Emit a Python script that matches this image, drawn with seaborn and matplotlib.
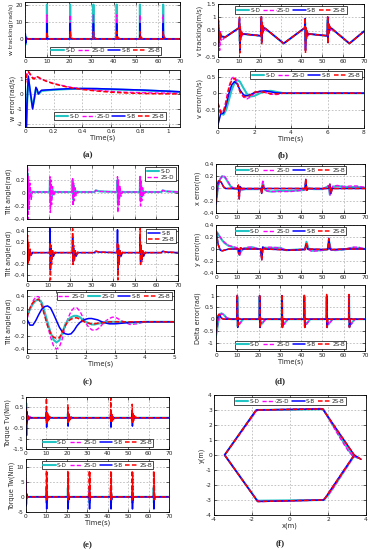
import seaborn as sns
import matplotlib.pyplot as plt
from matplotlib.ticker import FuncFormatter

SERIES = ["S-D", "2S-D", "S-B", "2S-B"]

# ---------------- (a) w tracking / w error
w_events = [9.9, 20.4, 30.9, 41.4, 51.9, 62.4]
w_offs = [-0.1, 0.0, 0.12, 0.3, 0.8, 1.6]
w_spike = {"S-D": [0, 20.0, 0.3, 0, 0, 0], "2S-D": [0, 14.0, 0.3, 0, 0, 0],
           "S-B": [0, 9.0, 1.0, 0.2, 0, 0], "2S-B": [0, 4.2, 3.0, 1.5, 0.5, 0]}
w_start_t = [0, 0.15, 0.3, 0.6, 1.5]
w_start = {"S-D": [0, -3.5, 1.5, 0, 0], "2S-D": [0, -1.5, 1.0, 0, 0],
           "S-B": [0, 3.0, -2.5, 0.5, 0], "2S-B": [0, 1.0, -0.5, 0.2, 0]}

we_t = [0, 0.008, 0.015, 0.023, 0.035, 0.053, 0.065, 0.076, 0.085, 0.093, 0.105, 0.115,
        0.15, 0.2, 0.3, 0.4, 0.5, 0.6, 0.7, 0.8, 0.9, 1.0, 1.08]
we = {
    "S-D": [0.6, -2.6, -0.6, 1.0, 0.2, -0.9, -0.3, 0.35, 0.2, 0.0, 0.1, 0.2,
            0.24, 0.28, 0.33, 0.35, 0.34, 0.31, 0.28, 0.25, 0.21, 0.17, 0.13],
    "2S-D": [0.7, 1.1, 1.45, 1.45, 1.3, 1.1, 1.05, 1.12, 1.12, 1.1, 1.03, 0.98,
             0.85, 0.7, 0.48, 0.34, 0.25, 0.17, 0.12, 0.09, 0.07, 0.06, 0.05],
    "S-B": [0.5, -2.6, -0.5, 1.2, 0.3, -1.0, -0.3, 0.45, 0.3, 0.0, 0.15, 0.25,
            0.27, 0.3, 0.35, 0.37, 0.36, 0.33, 0.3, 0.27, 0.23, 0.19, 0.15],
    "2S-B": [0.6, 1.0, 1.4, 1.5, 1.35, 1.05, 1.0, 1.15, 1.15, 1.12, 1.05, 1.0,
             0.85, 0.68, 0.45, 0.3, 0.2, 0.12, 0.07, 0.04, 0.02, 0.01, 0.0],
}

# ---------------- (b) v tracking / v error
v_base_t = [0, 3.5, 10.1, 12.0, 20.6, 22.6, 31.5, 41.6, 43.6, 52.4, 54.4, 63.0, 70.0]
v_base_v = [0.3, 0.25, 0.6, 0.37, 0.3, 0.58, 0.01, 0.6, 0.37, 0.3, 0.58, 0.01, 0.47]
v_events = [0.2, 10.3, 20.8, 41.8, 52.6]
v_offs = [0.0, 0.15, 0.35, 0.6, 0.95, 1.35]
v_burst = {
    "S-D": [[0.6, 0.15, 0.45, 0.2, 0.35, 0.28], [0.75, 0.1, 0.55, 0.3, 0.42, 0.38],
            [0.85, 0.3, 0.7, 0.5, 0.62, 0.58], [0.8, 0.1, 0.55, 0.3, 0.42, 0.38],
            [0.9, 0.3, 0.75, 0.55, 0.65, 0.6]],
    "2S-D": [[0.75, -0.1, 0.5, -0.25, 0.45, 0.1], [0.8, -0.15, 0.6, 0.15, 0.5, 0.3],
             [0.95, 0.15, 0.8, 0.4, 0.7, 0.5], [0.9, -0.15, 0.6, 0.15, 0.5, 0.3],
             [1.0, 0.15, 0.8, 0.4, 0.7, 0.5]],
    "S-B": [[0.85, 0.05, 0.45, 0.2, 0.35, 0.28], [0.95, -0.25, 0.6, 0.25, 0.42, 0.36],
            [1.0, 0.05, 0.75, 0.45, 0.62, 0.58], [0.95, -0.25, 0.6, 0.25, 0.42, 0.36],
            [1.0, 0.05, 0.75, 0.45, 0.62, 0.58]],
    "2S-B": [[0.9, 0.0, 0.5, 0.15, 0.4, 0.25], [1.0, -0.35, 0.65, 0.2, 0.45, 0.35],
             [1.05, 0.0, 0.8, 0.4, 0.65, 0.57], [0.98, -0.35, 0.65, 0.2, 0.45, 0.35],
             [1.05, 0.0, 0.8, 0.4, 0.65, 0.57]],
}

ve_t = [0, 0.15, 0.3, 0.45, 0.6, 0.75, 0.9, 1.05, 1.2, 1.4, 1.6, 1.8, 2.0, 2.3, 2.6,
        2.9, 3.2, 3.6, 4.0, 8.0]
ve = {
    "S-D": [-0.5, -0.6, -0.65, -0.5, -0.2, 0.1, 0.3, 0.4, 0.35, 0.15, -0.03, -0.1, -0.08,
            0.0, 0.06, 0.07, 0.04, 0.0, 0.0, 0.0],
    "2S-D": [-0.3, -0.55, -0.55, -0.2, 0.2, 0.45, 0.5, 0.35, 0.05, -0.12, -0.17, -0.1, 0.0,
             0.05, 0.03, -0.03, -0.04, 0.0, 0.0, 0.0],
    "S-B": [-0.95, -0.62, -0.6, -0.35, 0.0, 0.25, 0.35, 0.28, 0.1, -0.05, -0.08, -0.04, 0.02,
            0.06, 0.07, 0.04, 0.01, 0.0, 0.0, 0.0],
    "2S-B": [-0.3, -0.6, -0.58, -0.25, 0.15, 0.4, 0.45, 0.3, 0.05, -0.1, -0.12, -0.05, 0.03,
             0.05, 0.02, -0.02, -0.02, 0.0, 0.0, 0.0],
}

# ---------------- (c) tilt angle
tilt_base_t = [3.0, 10.3, 13.2, 20.8, 23.7, 31.3, 31.9, 33.5, 41.6, 44.5, 52.1, 55.0,
               62.3, 62.9, 64.5, 70]
tilt_base_v = [0.015, 0.015, 0.015, 0.015, 0.015, 0.015, 0.04, 0.025, 0.015, 0.015,
               0.015, 0.015, 0.015, 0.04, 0.025, 0.015]
tilt_events = [0.1, 10.5, 21.0, 41.8, 52.3]
tilt_offs = [0, 0.15, 0.35, 0.6, 0.9, 1.3, 1.8, 2.5]
tilt_burst = {
    "S-D": [[0.02, 0.3, -0.25, 0.15, -0.1, 0.06, -0.03, 0.02],
            [0.02, 0.2, -0.15, 0.1, -0.08, 0.05, 0.0, 0.02],
            [0.02, 0.2, -0.1, 0.12, -0.05, 0.05, 0.0, 0.02],
            [0.02, 0.2, -0.15, 0.1, -0.08, 0.05, 0.0, 0.02],
            [0.02, 0.25, -0.12, 0.12, -0.06, 0.05, 0.0, 0.02]],
    "2S-D": [[0.02, 0.4, -0.4, 0.25, -0.25, 0.15, -0.1, 0.02],
             [0.02, 0.25, -0.3, 0.2, -0.18, 0.1, -0.05, 0.02],
             [0.02, 0.22, -0.2, 0.15, -0.12, 0.08, -0.04, 0.02],
             [0.02, 0.25, -0.3, 0.2, -0.18, 0.1, -0.05, 0.02],
             [0.02, 0.25, -0.2, 0.18, -0.12, 0.08, -0.04, 0.02]],
    "S-B": [[0.02, 0.1, -0.12, 0.06, -0.1, 0.05, -0.03, 0.02],
            [0.02, 0.45, -0.3, 0.1, -0.12, 0.05, -0.05, 0.02],
            [0.02, 0.3, -0.15, 0.1, -0.12, 0.05, -0.05, 0.02],
            [0.02, 0.43, -0.3, 0.1, -0.12, 0.05, -0.05, 0.02],
            [0.02, 0.3, -0.15, 0.1, -0.12, 0.05, -0.05, 0.02]],
    "2S-B": [[0.02, 0.33, -0.2, 0.2, -0.15, 0.08, -0.03, 0.02],
             [0.02, 0.2, -0.48, 0.15, -0.2, 0.05, -0.03, 0.02],
             [0.02, 0.45, -0.2, 0.15, -0.15, 0.05, -0.03, 0.02],
             [0.02, 0.2, -0.48, 0.15, -0.2, 0.05, -0.03, 0.02],
             [0.02, 0.45, -0.2, 0.15, -0.15, 0.05, -0.03, 0.02]],
}

tz_t = [0.0, 0.1, 0.2, 0.3, 0.4, 0.5, 0.6, 0.7, 0.8, 0.9,
        1.0, 1.1, 1.2, 1.3, 1.4, 1.5, 1.6, 1.7, 1.8, 1.9,
        2.0, 2.1, 2.2, 2.3, 2.4, 2.5, 2.6, 2.7, 2.8, 2.9,
        3.0, 3.25, 3.5, 3.75, 4.0, 4.5, 5.0]
tz_2sd_a = [0.05, 0.2, 0.32, 0.39, 0.39, 0.3, 0.12, -0.05, -0.22, -0.35,
            -0.4, -0.37, -0.25, -0.06, 0.07, 0.17, 0.22, 0.22, 0.17, 0.08,
            -0.01, -0.07, -0.11, -0.12, -0.1, -0.06, -0.01, 0.03, 0.06, 0.08,
            0.08, 0.02, -0.03, -0.02, 0.01, 0.01, 0.01]
tz_2sd_b = [0.1, 0.2, 0.28, 0.33, 0.35, 0.3, 0.16, 0.0, -0.15, -0.26,
            -0.3, -0.27, -0.16, -0.03, 0.04, 0.08, 0.1, 0.1, 0.08, 0.04,
            0.01, -0.01, -0.03, -0.03, -0.02, -0.01, 0.0, 0.01, 0.01, 0.01,
            0.01, 0.01, 0.0, 0.0, 0.01, 0.01, 0.01]
tz_sb = [0.05, -0.04, -0.04, 0.03, 0.12, 0.2, 0.24, 0.25, 0.22, 0.13,
         0.03, -0.07, -0.14, -0.17, -0.18, -0.17, -0.12, -0.05, 0.0, 0.03,
         0.05, 0.06, 0.06, 0.05, 0.04, 0.02, 0.0, -0.01, -0.02, -0.02,
         -0.02, -0.01, 0.0, 0.01, 0.01, 0.01, 0.01]
tz_2sb = [0.08, 0.22, 0.3, 0.34, 0.35, 0.26, 0.1, -0.05, -0.16, -0.22,
          -0.24, -0.23, -0.15, -0.05, 0.02, 0.05, 0.07, 0.07, 0.05, 0.02,
          0.0, -0.01, -0.02, -0.02, -0.01, -0.01, 0.0, 0.0, 0.01, 0.01,
          0.01, 0.01, 0.01, 0.01, 0.01, 0.01, 0.01]

# ---------------- (d) x, y, delta errors
xD_t = [0, 0.5, 1, 2, 3, 4, 5, 6, 7, 8, 10, 10.5, 10.8, 11.3, 12, 14, 20.5, 21.5, 22, 22.5,
        23, 24, 26, 30, 35, 40, 41.8, 42.2, 42.6, 43.5, 46, 50, 53, 53.5, 54, 55, 57, 60,
        63, 66, 70]
xerr_D = {
    "S-D": [-0.25, -0.1, 0.05, 0.16, 0.2, 0.19, 0.14, 0.08, 0.03, 0.0, -0.01, 0.03, -0.05,
            0.02, -0.02, -0.01, -0.01, 0.0, 0.1, 0.02, -0.02, -0.04, -0.05, -0.04, -0.04,
            -0.03, -0.02, 0.08, -0.02, 0.0, -0.01, -0.01, 0.04, -0.1, -0.02, 0.03, 0.04,
            0.03, 0.02, 0.03, 0.01],
    "2S-D": [-0.25, -0.12, 0.04, 0.15, 0.21, 0.2, 0.15, 0.09, 0.04, 0.01, -0.01, 0.04, -0.06,
             0.03, -0.02, -0.01, -0.01, 0.0, 0.12, 0.03, -0.02, -0.04, -0.05, -0.05, -0.05,
             -0.03, -0.02, 0.09, -0.02, 0.0, -0.01, -0.01, 0.05, -0.12, -0.02, 0.04, 0.05,
             0.03, 0.04, 0.04, 0.02],
}
xB_t = [0, 0.5, 1, 1.5, 2.5, 3.5, 4.5, 10, 10.5, 10.9, 11.3, 12, 21, 21.5, 21.9, 22.5,
        41.8, 42.2, 42.6, 43.2, 53, 53.5, 54, 54.6, 70]
xerr_B = {
    "S-B": [-0.25, 0.02, 0.11, 0.12, 0.1, 0.03, 0.0, 0.0, 0.05, -0.17, 0.03, 0.0, 0.0,
            -0.08, 0.05, 0.0, 0.0, 0.15, -0.03, 0.0, 0.0, 0.07, -0.08, 0.0, 0.0],
    "2S-B": [-0.22, 0.03, 0.12, 0.13, 0.1, 0.03, 0.0, 0.0, 0.06, -0.17, 0.03, 0.0, 0.0,
             -0.09, 0.05, 0.0, 0.0, 0.16, -0.03, 0.0, 0.0, 0.07, -0.08, 0.0, 0.0],
}
yD_t = [0, 1, 2, 3, 4, 6, 8, 10, 10.5, 11, 11.5, 13, 15, 17, 20, 21, 21.5, 22, 22.5, 25,
        30, 33, 38, 41.8, 42.5, 43.5, 45, 50, 52.5, 53.2, 54, 56, 60, 64, 67, 70]
yerr_D = {
    "S-D": [0.3, 0.25, 0.19, 0.14, 0.1, 0.05, 0.03, 0.01, -0.05, -0.1, -0.05, 0.01, 0.02,
            0.03, 0.0, 0.0, -0.12, 0.03, 0.02, 0.02, 0.02, -0.02, -0.01, 0.0, 0.12, 0.0,
            -0.03, -0.02, 0.0, 0.12, -0.01, -0.02, -0.01, 0.02, 0.02, 0.0],
    "2S-D": [0.3, 0.24, 0.2, 0.15, 0.11, 0.06, 0.04, 0.02, -0.06, -0.12, -0.06, 0.01, 0.03,
             0.03, 0.0, 0.0, -0.14, 0.03, 0.02, 0.03, 0.02, -0.02, -0.01, 0.0, 0.1, -0.01,
             -0.04, -0.02, 0.0, 0.1, -0.02, -0.02, -0.01, 0.03, 0.03, 0.0],
}
yB_t = [0, 0.5, 1, 2, 3, 4, 6, 10.5, 11, 11.5, 12.5, 21, 21.5, 22, 23, 30, 35, 41.8, 42.4,
        43, 52.5, 53, 53.5, 54.5, 60, 70]
yerr_B = {
    "S-B": [0.3, 0.2, 0.08, -0.02, -0.03, -0.02, 0.0, 0.0, -0.08, 0.02, 0.0, 0.0, -0.18,
            0.03, 0.0, -0.01, -0.02, -0.01, 0.08, 0.0, -0.01, 0.18, 0.0, -0.01, 0.0, 0.0],
    "2S-B": [0.3, 0.19, 0.07, -0.02, -0.03, -0.02, 0.0, 0.0, -0.09, 0.02, 0.0, 0.0, -0.19,
             0.03, 0.0, -0.01, -0.02, -0.01, 0.09, 0.0, -0.01, 0.17, 0.0, -0.01, 0.0, 0.0],
}
d_events = [10.0, 20.5, 31.0, 41.5, 52.0, 62.5]
d_offs = [-0.1, 0.0, 0.2, 0.5, 1.0, 1.8, 2.8]
d_spike = {"S-D": [0, 0.95, -0.3, -0.15, -0.2, -0.1, 0], "2S-D": [0, 0.9, -0.3, -0.12, -0.22, -0.12, 0],
           "S-B": [0, 1.0, -0.35, 0.0, 0.02, 0, 0], "2S-B": [0, 1.05, -0.35, 0.05, 0.0, 0, 0]}
d_start_t = [0, 0.5, 1, 1.5, 2.5, 3.5, 5, 7]
d_start = {"S-D": [-0.7, -0.45, -0.15, 0.1, 0.25, 0.2, 0.05, 0],
           "2S-D": [-0.6, -0.4, -0.12, 0.08, 0.23, 0.2, 0.06, 0],
           "S-B": [-0.5, -0.1, 0.15, 0.2, 0.05, 0.0, 0, 0],
           "2S-B": [-0.45, -0.1, 0.15, 0.22, 0.05, 0.0, 0, 0]}

# ---------------- (e) torques
tv_events = [10.0, 20.5, 41.5, 52.0]
tv_offs = [-0.05, 0.0, 0.1, 0.25, 0.4, 0.6, 0.8, 1.0, 1.3, 1.7, 2.2]
tv_burst = {
    "S-D": [[0, 0.2, -0.15, 0.1, -0.05, 0, 0, 0, 0, 0, 0]] * 4,
    "2S-D": [[0, 0.15, -0.12, 0.08, -0.08, 0.05, -0.03, 0, 0, 0, 0]] * 4,
    "S-B": [[0, 0.3, -0.45, 0.1, -0.1, 0.05, -0.05, 0.03, 0, 0, 0],
            [0, 0.25, -0.4, 0.1, -0.1, 0.05, -0.05, 0.03, 0, 0, 0],
            [0, 0.3, -0.45, 0.1, -0.1, 0.05, -0.05, 0.03, 0, 0, 0],
            [0, 0.25, -0.4, 0.1, -0.1, 0.05, -0.05, 0.03, 0, 0, 0]],
    "2S-B": [[0, 0.95, -0.25, 0.25, -0.2, 0.2, -0.15, 0.12, -0.08, 0.05, 0],
             [0, 0.62, -0.22, 0.22, -0.18, 0.18, -0.12, 0.1, -0.06, 0.04, 0],
             [0, 0.95, -0.25, 0.25, -0.2, 0.2, -0.15, 0.12, -0.08, 0.05, 0],
             [0, 0.65, -0.22, 0.22, -0.18, 0.18, -0.12, 0.1, -0.06, 0.04, 0]],
}
tv_start_t = [0, 0.1, 0.25, 0.4, 0.6, 0.8, 1.0, 1.3, 1.6, 2.0, 2.5, 3.0]
tv_start = {"S-D": [0, 0.7, -0.3, 0.2, -0.1, 0.05, 0, 0, 0, 0, 0, 0],
            "2S-D": [0, 0.3, -0.2, 0.15, -0.12, 0.12, -0.1, 0.1, -0.08, 0.06, -0.03, 0],
            "S-B": [0, 0.5, -0.85, 0.3, -0.2, 0.1, -0.05, 0, 0, 0, 0, 0],
            "2S-B": [0, 0.4, -0.3, 0.2, -0.15, 0.1, -0.05, 0.03, 0, 0, 0, 0]}

tw_events = [10.0, 20.5, 31.0, 41.5, 52.0, 62.5]
tw_offs = [-0.05, 0.0, 0.12, 0.25, 0.4, 0.6]
tw_burst = {
    "S-D": [[0, 3.0, -2.0, 1.0, 0, 0]] * 6,
    "2S-D": [[0, 3.5, -2.0, 1.0, 0, 0]] * 6,
    "S-B": [[0, 0.5, -4.0, 0.3, -1.0, 0]] * 4 + [[0, 1.3, -4.0, 0.3, -1.0, 0]] + [[0, 0.5, -4.0, 0.3, -1.0, 0]],
    "2S-B": [[0, 8.7, -1.0, 8.0, -0.5, 0]] * 6,
}
tw_start_t = [0, 0.1, 0.25, 0.5, 1.0]
tw_start = {"S-D": [0, -2.5, 1, 0, 0], "2S-D": [0, 5.5, -1, 0, 0],
            "S-B": [0, -3.0, 1, 0, 0], "2S-B": [0, 1.0, -0.5, 0, 0]}

# ---------------- (f) hexagon path
hex_x = {
    "S-D": [3.6, 3.3, 3.1, 2.65, 1.75, -1.72, -1.85, -3.44, -1.72, 1.76, 2.0, 3.38],
    "2S-D": [3.6, 3.3, 3.05, 2.6, 1.75, 1.6, -1.7, -1.8, -1.95, -3.44, -1.75, -1.55, 1.75,
             1.95, 2.2, 3.38],
    "S-B": [3.74, 3.38, 1.72, -1.78, -3.44, -1.7, 1.78, 3.38],
    "2S-B": [3.74, 3.38, 1.72, -1.78, -3.44, -1.7, 1.78, 3.38],
}
hex_y = {
    "S-D": [-0.2, -0.05, 0.3, 1.2, 3.05, 3.0, 2.85, 0.0, -3.05, -3.0, -2.7, -0.05],
    "2S-D": [-0.2, -0.05, 0.3, 1.2, 3.05, 3.1, 3.0, 2.9, 2.6, 0.0, -3.0, -3.1, -3.0,
             -2.75, -2.35, -0.05],
    "S-B": [-0.29, 0.0, 3.07, 3.0, 0.0, -3.1, -3.0, 0.0],
    "2S-B": [-0.29, 0.0, 3.07, 3.0, 0.0, -3.1, -3.0, 0.0],
}

# ---------------- styling
COL = {"S-D": "#22c4c4", "2S-D": "#ff00ff", "S-B": "#0000ff", "2S-B": "#ff0000"}
LS = {"S-D": "-", "2S-D": (0, (3, 1.5)), "S-B": "-", "2S-B": (0, (3, 1.5))}
LW = {"S-D": 1.5, "2S-D": 1.0, "S-B": 1.1, "2S-B": 1.1}

sns.set_theme(style="ticks")
plt.rcParams["font.family"] = ["DejaVu Sans"]
plt.rcParams["axes.unicode_minus"] = False

W, H = 372, 550
fig = plt.figure(figsize=(W / 100, H / 100), dpi=100)
fmt = FuncFormatter(lambda v, p: f"{v:g}")


def box(x0, y0, x1, y1):
    return fig.add_axes([x0 / W, 1 - y1 / H, (x1 - x0) / W, (y1 - y0) / H])


def spiky(start_t, start_v, events, offs, shapes, end):
    t, v = list(start_t), list(start_v)
    for e, vals in zip(events, shapes):
        t += [e + o for o in offs]
        v += list(vals)
    t.append(end[0])
    v.append(end[1])
    return t, v


def merged(base_t, base_v, events, offs, shapes):
    pts = list(zip(base_t, base_v))
    for e, vals in zip(events, shapes):
        pts += [(e + o, val) for o, val in zip(offs, vals)]
    pts.sort()
    return [p[0] for p in pts], [p[1] for p in pts]


def line(ax, t, v, key, label=None):
    sns.lineplot(x=t, y=v, ax=ax, color=COL[key], linestyle=LS[key], linewidth=LW[key],
                 label=label if label else key, sort=False, estimator=None)


def finish(ax, xlim, ylim, xt, yt, ylabel="", xlabel="", xlabels=True, ysize=4.7):
    ax.set_xlim(xlim)
    ax.set_ylim(ylim)
    ax.set_xticks(xt)
    ax.set_yticks(yt)
    ax.xaxis.set_major_formatter(fmt)
    ax.yaxis.set_major_formatter(fmt)
    if not xlabels:
        ax.set_xticklabels([])
    ax.grid(True, linestyle=(0, (3, 3)), linewidth=0.4, color="#9a9a9a")
    ax.tick_params(direction="in", length=2, width=0.5, labelsize=4.2, pad=1.5,
                   top=True, right=True)
    for s in ax.spines.values():
        s.set_linewidth(0.6)
        s.set_color("black")
    ax.set_ylabel(ylabel, fontsize=ysize, labelpad=1)
    ax.set_xlabel(xlabel, fontsize=4.9, labelpad=0)


def legend(ax, loc, ncol=4, bbox=None):
    leg = ax.legend(loc=loc, bbox_to_anchor=bbox, ncol=ncol, fontsize=4.1, handlelength=2.2,
                    handletextpad=0.25, columnspacing=0.45, borderpad=0.25, labelspacing=0.15,
                    frameon=True, fancybox=False, framealpha=1, edgecolor="black",
                    borderaxespad=0.4)
    leg.get_frame().set_linewidth(0.5)


T70 = list(range(0, 71, 10))

# (a)
ax = box(25, 2, 180, 57)
for k in SERIES:
    t, v = spiky(w_start_t, w_start[k], w_events, w_offs, [w_spike[k]] * len(w_events), (70, 0))
    line(ax, t, v, k)
finish(ax, (0, 70), (-10.5, 21.5), T70, [0, 10, 20], "w tracking(rad/s)", ysize=4.3)
legend(ax, "lower center", bbox=(0.52, 0.0))

ax = box(25, 70, 180, 127)
for k in SERIES:
    line(ax, we_t, we[k], k)
finish(ax, (0, 1.08), (-2.2, 1.6), [0, 0.2, 0.4, 0.6, 0.8, 1.0], [-2, -1, 0, 1],
       "w error(rad/s)", "Time(s)")
legend(ax, "lower center", bbox=(0.55, 0.08))

# (b)
ax = box(218, 4, 364, 57)
for k in SERIES:
    t, v = merged(v_base_t, v_base_v, v_events, v_offs, v_burst[k])
    line(ax, t, v, k)
finish(ax, (0, 70), (-0.5, 1.5), T70, [-0.5, 0, 0.5, 1, 1.5], "v tracking(m/s)")
legend(ax, "upper center")

ax = box(218, 69, 364, 128)
for k in SERIES:
    line(ax, ve_t, ve[k], k)
finish(ax, (0, 8), (-1.05, 0.73), [0, 2, 4, 6, 8], [-0.5, 0, 0.5], "v error(m/s)", "Time(s)")
legend(ax, "upper right")

# (c)
ax = box(27, 165, 178, 219)
for k in ["S-D", "2S-D"]:
    t, v = merged(tilt_base_t, tilt_base_v, tilt_events, tilt_offs, tilt_burst[k])
    line(ax, t, v, k)
finish(ax, (0, 70), (-0.4, 0.43), T70, [-0.4, -0.2, 0, 0.2], "Tilt angle(rad)", xlabels=False)
legend(ax, "upper right", ncol=1)

ax = box(27, 227, 178, 281)
for k in ["S-B", "2S-B"]:
    t, v = merged(tilt_base_t, tilt_base_v, tilt_events, tilt_offs, tilt_burst[k])
    line(ax, t, v, k)
finish(ax, (0, 70), (-0.5, 0.48), T70, [-0.4, -0.2, 0, 0.2, 0.4], "Tilt angle(rad)")
legend(ax, "upper right", ncol=1)

ax = box(27, 290, 174, 353)
line(ax, tz_t, tz_2sd_a, "2S-D")
line(ax, tz_t, tz_2sd_b, "S-D", label="2S-D")
line(ax, tz_t, tz_sb, "S-B")
line(ax, tz_t, tz_2sb, "2S-B")
finish(ax, (0, 5), (-0.46, 0.49), [0, 1, 2, 3, 4, 5], [-0.4, -0.2, 0, 0.2, 0.4],
       "Tilt angle(rad)", "Time(s)")
legend(ax, "upper right")

# (d)
ax = box(216, 164, 365, 213)
for k in ["S-D", "2S-D"]:
    line(ax, xD_t, xerr_D[k], k)
for k in ["S-B", "2S-B"]:
    line(ax, xB_t, xerr_B[k], k)
finish(ax, (0, 70), (-0.4, 0.4), T70, [-0.4, -0.2, 0, 0.2, 0.4], "x error(m)")
legend(ax, "upper center")

ax = box(216, 225, 365, 273)
for k in ["S-D", "2S-D"]:
    line(ax, yD_t, yerr_D[k], k)
for k in ["S-B", "2S-B"]:
    line(ax, yB_t, yerr_B[k], k)
finish(ax, (0, 70), (-0.4, 0.4), T70, [-0.4, -0.2, 0, 0.2, 0.4], "y error(m)")
legend(ax, "upper center")

ax = box(216, 285, 365, 351)
for k in SERIES:
    t, v = spiky(d_start_t, d_start[k], d_events, d_offs, [d_spike[k]] * len(d_events), (70, 0))
    line(ax, t, v, k)
finish(ax, (0, 70), (-1.35, 1.45), T70, [-1, -0.5, 0, 0.5, 1], "Delta error(rad)", "Time(s)")
legend(ax, "lower center")

# (e)
ax = box(26, 397, 169, 449)
for k in SERIES:
    t, v = spiky(tv_start_t, tv_start[k], tv_events, tv_offs, tv_burst[k], (70, 0))
    line(ax, t, v, k)
finish(ax, (0, 70), (-1.5, 1.0), T70, [-1.5, -1, -0.5, 0, 0.5, 1], "Torque Tv(Nm)")
legend(ax, "lower center")

ax = box(26, 459, 169, 512)
for k in SERIES:
    t, v = spiky(tw_start_t, tw_start[k], tw_events, tw_offs, tw_burst[k], (70, 0))
    line(ax, t, v, k)
finish(ax, (0, 70), (-5, 12.5), T70, [-5, 0, 5, 10], "Torque Tw(Nm)", "Time(s)")
legend(ax, "upper center")

# (f)
ax = box(214, 395, 366, 515)
for k in SERIES:
    line(ax, hex_x[k], hex_y[k], k)
finish(ax, (-4, 4), (-4, 4), [-4, -2, 0, 2, 4], list(range(-4, 5)), "y(m)", "x(m)")
legend(ax, "upper center")

for lab, x, y in [("(a)", 88, 155), ("(b)", 283, 155), ("(c)", 88, 382),
                  ("(d)", 280, 381), ("(e)", 88, 545), ("(f)", 280, 543)]:
    fig.text(x / W, 1 - y / H, lab, ha="center", va="center", fontsize=6.5,
             fontweight="bold", family="Liberation Serif")

fig.savefig("out.png", dpi=100)
